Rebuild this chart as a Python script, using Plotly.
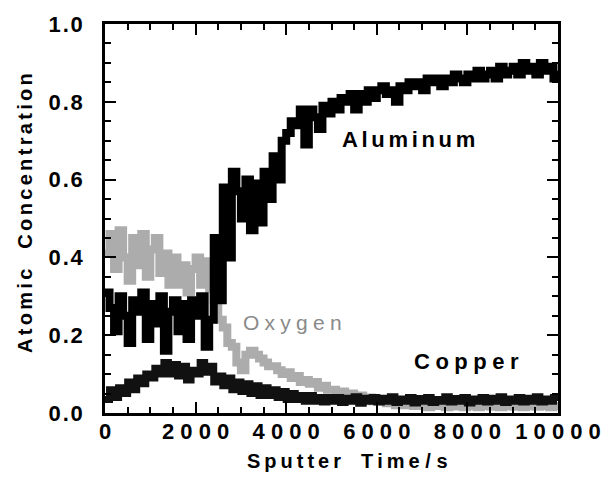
import plotly.graph_objects as go

time_s = list(range(0, 10001, 100))

aluminum = [0.31,0.27,0.21,0.30,0.25,0.18,0.29,0.26,0.31,0.19,
 0.28,0.23,0.30,0.16,0.26,0.29,0.21,0.28,0.19,0.29,
 0.25,0.30,0.17,0.24,0.45,0.29,0.58,0.40,0.62,0.57,
 0.50,0.60,0.47,0.59,0.49,0.62,0.55,0.66,0.60,0.70,
 0.72,0.75,0.74,0.78,0.69,0.78,0.76,0.73,0.79,0.77,
 0.80,0.78,0.81,0.80,0.82,0.78,0.82,0.80,0.83,0.81,
 0.83,0.84,0.82,0.83,0.80,0.84,0.83,0.85,0.84,0.85,
 0.83,0.86,0.85,0.86,0.84,0.86,0.85,0.87,0.86,0.85,
 0.87,0.86,0.88,0.86,0.87,0.88,0.86,0.89,0.87,0.88,
 0.89,0.87,0.90,0.88,0.89,0.87,0.90,0.88,0.89,0.86,
 0.88]

oxygen = [0.41,0.46,0.37,0.47,0.40,0.34,0.45,0.38,0.46,0.35,
 0.42,0.45,0.36,0.41,0.33,0.40,0.33,0.38,0.31,0.37,
 0.40,0.33,0.39,0.32,0.29,0.24,0.22,0.18,0.17,0.13,
 0.11,0.15,0.16,0.15,0.14,0.13,0.12,0.12,0.11,0.10,
 0.105,0.09,0.095,0.08,0.085,0.075,0.08,0.065,0.07,0.06,
 0.06,0.05,0.055,0.045,0.05,0.04,0.045,0.035,0.04,0.03,
 0.035,0.03,0.025,0.03,0.02,0.025,0.02,0.025,0.018,0.022,
 0.02,0.015,0.02,0.018,0.022,0.015,0.02,0.017,0.02,0.015,
 0.018,0.02,0.015,0.018,0.02,0.016,0.02,0.015,0.018,0.02,
 0.016,0.02,0.015,0.018,0.02,0.016,0.018,0.02,0.015,0.018,
 0.02]

copper = [0.035,0.06,0.04,0.065,0.05,0.08,0.06,0.09,0.075,0.10,
 0.09,0.115,0.10,0.13,0.10,0.125,0.095,0.12,0.085,0.11,
 0.10,0.13,0.105,0.12,0.08,0.095,0.07,0.09,0.06,0.08,
 0.055,0.075,0.05,0.07,0.045,0.065,0.045,0.06,0.04,0.055,
 0.035,0.05,0.035,0.045,0.03,0.045,0.03,0.04,0.028,0.04,
 0.03,0.04,0.027,0.038,0.03,0.042,0.025,0.038,0.03,0.04,
 0.028,0.038,0.03,0.042,0.027,0.036,0.03,0.04,0.026,0.037,
 0.03,0.04,0.027,0.035,0.03,0.042,0.028,0.037,0.03,0.04,
 0.026,0.036,0.03,0.04,0.028,0.038,0.03,0.042,0.027,0.036,
 0.03,0.04,0.028,0.038,0.03,0.042,0.028,0.036,0.03,0.04,
 0.033]

x_ticks = [0, 2000, 4000, 6000, 8000, 10000]
x_tick_labels = ["0", "2000", "4000", "6000", "8000", "10000"]
y_ticks = [0.0, 0.2, 0.4, 0.6, 0.8, 1.0]
y_tick_labels = ["0.0", "0.2", "0.4", "0.6", "0.8", "1.0"]


def spaced(s, sp):
    return sp.join(list(s))


FONT = "Liberation Sans, Arial, sans-serif"

fig = go.Figure()
fig.add_trace(go.Scatter(x=time_s, y=oxygen, mode="lines", line=dict(color="#acacac", width=8, shape="hv"),
                         name="Oxygen", showlegend=False))
fig.add_trace(go.Scatter(x=time_s, y=aluminum, mode="lines", line=dict(color="#000000", width=8, shape="hv"),
                         name="Aluminum", showlegend=False))
fig.add_trace(go.Scatter(x=time_s, y=copper, mode="lines", line=dict(color="#111111", width=7, shape="hv"),
                         name="Copper", showlegend=False))

axis_common = dict(showline=True, linecolor="black", linewidth=2.5, mirror="allticks",
                   ticks="inside", ticklen=11, tickwidth=2, tickcolor="black",
                   showgrid=False, zeroline=False,
                   tickfont=dict(family=FONT, size=22, color="black", weight="bold"))

fig.update_xaxes(range=[0, 10000], tickvals=x_ticks,
                 ticktext=[spaced(t, " ") for t in x_tick_labels],
                 minor=dict(ticks="inside", dtick=500, ticklen=6, tickwidth=2, tickcolor="black"),
                 ticklabelstandoff=-3, **axis_common)
fig.update_yaxes(range=[0, 1.0], tickvals=y_ticks,
                 ticktext=[spaced(t, "\u200a") for t in y_tick_labels],
                 minor=dict(ticks="inside", dtick=0.05, ticklen=6, tickwidth=2, tickcolor="black"),
                 ticklabelstandoff=15, **axis_common)

fig.update_layout(
    width=613, height=479,
    margin=dict(l=105, r=46, t=23, b=66),
    paper_bgcolor="white", plot_bgcolor="white",
)

fig.add_annotation(x=6700, y=0.704, xref="x", yref="y", text=spaced("Aluminum", "\u2006"), showarrow=False,
                   font=dict(family=FONT, size=22, color="black", weight="bold"))
fig.add_annotation(x=7990, y=0.133, xref="x", yref="y", text=spaced("Copper", "\u2005"), showarrow=False,
                   font=dict(family=FONT, size=22, color="black", weight="bold"))
fig.add_annotation(x=4130, y=0.232, xref="x", yref="y", text=spaced("Oxygen", "\u2005"), showarrow=False,
                   font=dict(family=FONT, size=21, color="#8a8a8a"))

pw = 613 - 105 - 46
ph = 479 - 23 - 66
fig.add_annotation(x=(352 - 105) / pw, y=-(461 - 413) / ph, xref="paper", yref="paper",
                   text=spaced("Sputter", "\u2009") + "\u2003" + spaced("Time", "\u2009") + " / s",
                   showarrow=False, xanchor="center", yanchor="middle",
                   font=dict(family=FONT, size=20, color="black", weight="bold"))
fig.add_annotation(x=-(105 - 23) / pw, y=(413 - 213) / ph, xref="paper", yref="paper",
                   text=spaced("Atomic", "\u2006") + "\u2003" + spaced("Concentration", "\u2006"),
                   showarrow=False, textangle=-90, xanchor="center", yanchor="middle",
                   font=dict(family=FONT, size=20, color="black", weight="bold"))

fig.write_html("out.html")
